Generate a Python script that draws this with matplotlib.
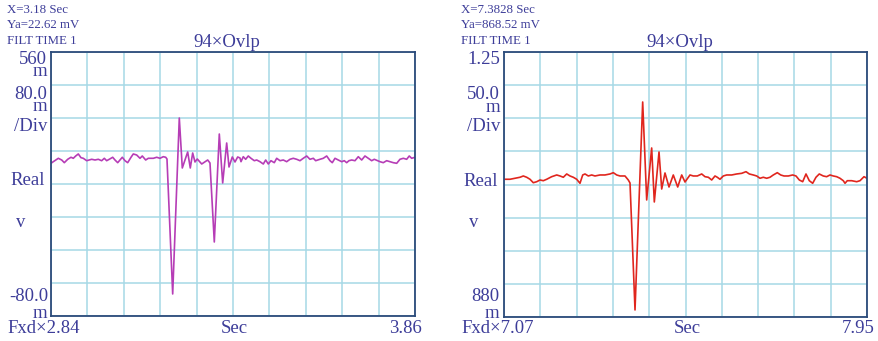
import matplotlib
matplotlib.use("Agg")
import matplotlib.pyplot as plt
import numpy as np

# ---- left trace (time in s, amplitude in mV) ----
left_t = [2.840, 2.8464, 2.8605, 2.870, 2.8773, 2.8868, 2.896, 2.9025, 2.9092, 2.9165,
          2.924, 2.9305, 2.940, 2.954, 2.9633, 2.9725, 2.982, 2.9894, 2.996, 3.0033,
          3.0129, 3.0193, 3.0269, 3.0333, 3.0398, 3.0473, 3.0549, 3.0642, 3.0706, 3.0801,
          3.0894, 3.0958, 3.1053, 3.1126, 3.1267, 3.1362, 3.1454, 3.1547, 3.1614, 3.165,
          3.181, 3.1995, 3.2079, 3.223, 3.2303, 3.237, 3.2435, 3.2499, 3.2623, 3.2791,
          3.2855, 3.2976, 3.3116, 3.3211, 3.3323, 3.3388, 3.348, 3.3556, 3.3631, 3.3696,
          3.3724, 3.3788, 3.3855, 3.3928, 3.4004, 3.4097, 3.4164, 3.4256, 3.4349, 3.4416,
          3.4489, 3.4564, 3.4657, 3.4724, 3.4817, 3.4909, 3.5004, 3.5097, 3.5189, 3.5285,
          3.5377, 3.5469, 3.5565, 3.5657, 3.575, 3.5817, 3.5937, 3.603, 3.6125, 3.6218,
          3.6282, 3.6358, 3.645, 3.6545, 3.6618, 3.6685, 3.675, 3.6826, 3.6918, 3.7011,
          3.7106, 3.7198, 3.7291, 3.7386, 3.7459, 3.7554, 3.7618, 3.7711, 3.7806, 3.7899,
          3.7991, 3.8087, 3.8179, 3.8272, 3.8367, 3.8439, 3.8507, 3.86]
left_v = [290.2, 294.1, 302.3, 298.2, 291.7, 299.9, 304.8, 302.3, 307.9, 312.8,
          303.8, 302.3, 296.5, 299.9, 298.2, 299.9, 296.5, 302.3, 296.5, 299.9,
          304.8, 298.2, 291.7, 298.2, 304.8, 296.5, 291.7, 304.8, 312.8, 310.3,
          302.3, 307.9, 298.2, 302.3, 302.3, 304.8, 302.3, 306.2, 304.8, 300.6,
          -26.6, 400.0, 278.8, 317.6, 278.8, 315.2, 293.4, 300.6, 288.5, 298.2,
          290.9, 99.4, 361.2, 242.5, 339.4, 281.2, 305.5, 293.4, 305.5, 303.1,
          294.1, 306.2, 299.9, 307.9, 302.3, 296.5, 298.2, 294.1, 288.5, 298.2,
          288.5, 296.5, 291.7, 302.3, 296.5, 298.2, 294.1, 299.9, 302.3, 299.9,
          296.5, 302.3, 307.9, 299.9, 302.3, 296.5, 299.9, 302.3, 307.9, 296.5,
          291.7, 302.3, 298.2, 294.1, 296.5, 291.7, 296.5, 298.2, 296.5, 306.2,
          298.2, 307.9, 302.3, 296.5, 299.9, 296.5, 294.1, 291.7, 296.5, 294.1,
          291.7, 290.2, 299.9, 302.3, 299.9, 307.9, 302.3, 304.8]

# ---- right trace ----
right_t = [7.070, 7.0845, 7.0967, 7.1088, 7.1168, 7.125, 7.133, 7.141, 7.1493, 7.1573,
           7.1653, 7.1735, 7.1856, 7.1978, 7.2058, 7.2138, 7.222, 7.230, 7.238, 7.2462,
           7.2542, 7.2608, 7.2664, 7.2744, 7.2826, 7.2906, 7.3027, 7.3148, 7.327, 7.335,
           7.3432, 7.3512, 7.3633, 7.3713, 7.3755, 7.3876, 7.4062, 7.4159, 7.428, 7.4344,
           7.4458, 7.4523, 7.4603, 7.470, 7.4804, 7.4911, 7.5008, 7.5088, 7.5209, 7.5289,
           7.5386, 7.5493, 7.5573, 7.5653, 7.5735, 7.5815, 7.5871, 7.5936, 7.6016, 7.6098,
           7.622, 7.6341, 7.6462, 7.6567, 7.6647, 7.6744, 7.6826, 7.6906, 7.6986, 7.7068,
           7.7148, 7.7228, 7.7325, 7.7408, 7.7488, 7.7592, 7.7699, 7.7779, 7.7859, 7.7941,
           7.8021, 7.8101, 7.8183, 7.8263, 7.8343, 7.844, 7.8522, 7.8603, 7.8683, 7.8765,
           7.8845, 7.8925, 7.8967, 7.9022, 7.9129, 7.925, 7.933, 7.9427, 7.950]
right_v = [1072.3, 1072.3, 1073.7, 1075.1, 1076.9, 1075.1, 1072.3, 1067.5, 1068.9, 1071.3,
           1070.3, 1072.3, 1075.9, 1078.3, 1076.9, 1075.1, 1079.7, 1076.9, 1075.1, 1072.3,
           1066.7, 1078.3, 1079.7, 1076.9, 1078.3, 1076.9, 1078.3, 1078.3, 1079.7, 1081.5,
           1078.3, 1076.9, 1076.9, 1071.3, 1067.1, 889.8, 1180.2, 1043.4, 1116.0, 1040.6,
           1110.4, 1058.7, 1081.1, 1061.5, 1078.3, 1061.5, 1078.3, 1068.5, 1078.3, 1076.9,
           1076.9, 1079.7, 1075.9, 1075.1, 1071.3, 1076.9, 1075.1, 1072.3, 1076.9, 1078.3,
           1078.3, 1079.7, 1080.6, 1082.9, 1079.7, 1078.3, 1076.9, 1073.7, 1075.1, 1073.7,
           1075.1, 1078.3, 1081.5, 1078.3, 1076.9, 1076.9, 1078.3, 1076.9, 1071.3, 1068.9,
           1079.7, 1070.3, 1066.7, 1075.1, 1079.7, 1076.9, 1075.9, 1078.3, 1076.9, 1075.9,
           1073.7, 1070.3, 1066.7, 1070.3, 1070.3, 1068.9, 1070.3, 1075.9, 1073.7]

left_xlim = (2.84, 3.86)
left_ylim = (-80.0, 560.0)
right_xlim = (7.07, 7.95)
right_ylim = (880.0, 1250.0)

W, H = 879, 341
TXT = '#3d3d99'
GRID = '#a6d8e6'
FRAME = '#2b4a7a'
plt.rcParams['font.family'] = ['Liberation Serif', 'DejaVu Serif']

fig = plt.figure(figsize=(W / 100, H / 100), dpi=100)


def ftext(x, y, s, size=13.5, ha='left'):
    # y is the text baseline in pixels from the top
    fig.text(x / W, 1 - y / H, s, fontsize=size, color=TXT, ha=ha, va='baseline')


def panel(left, top, right, bottom, t, v, xlim, ylim, color):
    ax = fig.add_axes([left / W, 1 - bottom / H, (right - left) / W, (bottom - top) / H])
    ax.plot(t, v, color=color, lw=1.2)
    ax.set_xlim(*xlim)
    ax.set_ylim(*ylim)
    ax.set_xticks(np.linspace(xlim[0], xlim[1], 11))
    ax.set_yticks(np.linspace(ylim[0], ylim[1], 9))
    ax.tick_params(length=0, labelbottom=False, labelleft=False)
    ax.grid(True, color=GRID, lw=1.1)
    ax.set_axisbelow(True)
    for sp in ax.spines.values():
        sp.set_color(FRAME)
        sp.set_linewidth(1.3)
    return ax


panel(51, 52, 415, 316, left_t, left_v, left_xlim, left_ylim, '#b63db6')
panel(504, 52, 867, 317, right_t, right_v, right_xlim, right_ylim, '#e0261e')

# left panel labels
ftext(7, 13, 'X=3.18 Sec', size=9.3)
ftext(7, 28, 'Ya=22.62 mV', size=9.3)
ftext(7, 44, 'FILT TIME 1', size=9.3)
ftext(227, 47, '94\u00d7Ovlp', ha='center')
ftext(47, 64, '560', ha='right')
ftext(47, 76, 'm', ha='right')
ftext(47, 99, '80.0', ha='right')
ftext(47, 111, 'm', ha='right')
ftext(47, 131, '/Div', ha='right')
ftext(45, 185, 'Real', ha='right')
ftext(21, 227, 'v', ha='center')
ftext(48, 301, '-80.0', ha='right')
ftext(47, 318, 'm', ha='right')
ftext(7, 333, 'Fxd\u00d72.84')
ftext(234, 333, 'Sec', ha='center')
ftext(422, 333, '3.86', ha='right')

# right panel labels
ftext(461, 13, 'X=7.3828 Sec', size=9.3)
ftext(461, 28, 'Ya=868.52 mV', size=9.3)
ftext(461, 44, 'FILT TIME 1', size=9.3)
ftext(680, 47, '94\u00d7Ovlp', ha='center')
ftext(500, 64, '1.25', ha='right')
ftext(500, 99, '50.0', ha='right')
ftext(500, 112, 'm', ha='right')
ftext(500, 131, '/Div', ha='right')
ftext(498, 186, 'Real', ha='right')
ftext(474, 227, 'v', ha='center')
ftext(499, 301, '880', ha='right')
ftext(499, 318, 'm', ha='right')
ftext(461, 333, 'Fxd\u00d77.07')
ftext(687, 333, 'Sec', ha='center')
ftext(875, 333, '7.95', ha='right')

fig.savefig('out.png', dpi=100)
